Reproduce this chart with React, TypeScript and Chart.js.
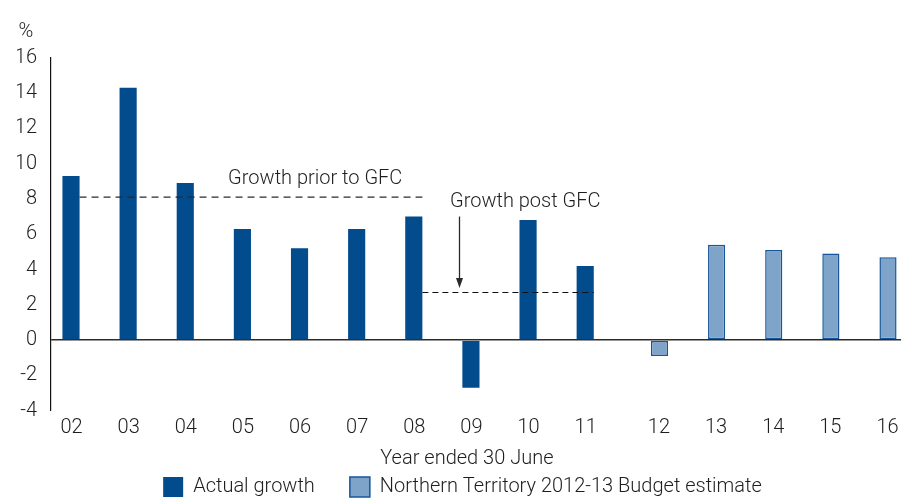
import React, { useEffect, useRef } from "react";
import { Chart, registerables } from "chart.js";

Chart.register(...registerables);

// ---- data ----
const YEARS = ["02", "03", "04", "05", "06", "07", "08", "09", "10", "11", "12", "13", "14", "15", "16"];
const ACTUAL_GROWTH = [9.3, 14.3, 8.9, 6.3, 5.2, 6.3, 7.0, -2.7, 6.8, 4.2, null, null, null, null, null];
const BUDGET_ESTIMATE = [null, null, null, null, null, null, null, null, null, null, -0.9, 5.4, 5.1, 4.9, 4.7];
const PRIOR_GFC_AVG = [8.1, 8.1, 8.1, 8.1, 8.1, 8.1, 8.1, null, null, null, null, null, null, null, null];
const POST_GFC_AVG = [null, null, null, null, null, null, 2.7, 2.7, 2.7, 2.7, null, null, null, null, null];
const SERIES_NAMES = ["Actual growth", "Northern Territory 2012-13 Budget estimate"];
const Y_MIN = -4;
const Y_MAX = 16;
const Y_STEP = 2;
const Y_UNIT = "%";
const X_TITLE = "Year ended 30 June";
const NOTE_LABELS = ["Growth prior to GFC", "Growth post GFC"];
const NOTE_X = [2.6, 7.8]; // in category units
const NOTE_Y = [9.15, 7.8]; // in % units
const ARROW_X = 6.64;
const ARROW_FROM = 7.0;
const ARROW_TO = 2.95;

// ---- style ----
const FAMILY = "Roboto, 'Liberation Sans', sans-serif";
const TEXT = "#1e1e1e";
const DARK_BLUE = "#024b8d";
const LIGHT_BLUE = "#7fa4c9";
const LIGHT_BORDER = "#17569a";

const notesPlugin = {
  id: "notes",
  afterDatasetsDraw(chart: any) {
    const { ctx, chartArea } = chart;
    const x = chart.scales.x;
    const y = chart.scales.y;
    ctx.save();
    ctx.font = `300 20px ${FAMILY}`;
    ctx.fillStyle = TEXT;
    ctx.textBaseline = "middle";
    ctx.textAlign = "left";
    ctx.fillText(NOTE_LABELS[0], x.getPixelForValue(NOTE_X[0]), y.getPixelForValue(NOTE_Y[0]));
    ctx.textAlign = "center";
    ctx.fillText(NOTE_LABELS[1], x.getPixelForValue(NOTE_X[1]), y.getPixelForValue(NOTE_Y[1]));
    ctx.fillText(Y_UNIT, chartArea.left - 25, chartArea.top - 26);

    const ax = Math.round(x.getPixelForValue(ARROW_X)) + 0.5;
    const ay1 = y.getPixelForValue(ARROW_FROM);
    const ay2 = y.getPixelForValue(ARROW_TO);
    ctx.strokeStyle = "#2a2a2a";
    ctx.fillStyle = "#2a2a2a";
    ctx.lineWidth = 1.3;
    ctx.beginPath();
    ctx.moveTo(ax, ay1);
    ctx.lineTo(ax, ay2 - 8);
    ctx.stroke();
    ctx.beginPath();
    ctx.moveTo(ax - 3.5, ay2 - 10);
    ctx.lineTo(ax + 3.5, ay2 - 10);
    ctx.lineTo(ax, ay2);
    ctx.closePath();
    ctx.fill();
    ctx.restore();
  },
};

export default function App() {
  const ref = useRef<HTMLCanvasElement | null>(null);

  useEffect(() => {
    if (!ref.current) return;
    const font = { family: FAMILY, size: 20, weight: "300" as any };
    const chart = new Chart(ref.current, {
      type: "bar",
      data: {
        labels: YEARS,
        datasets: [
          {
            type: "line" as any,
            label: "prior",
            data: PRIOR_GFC_AVG as any,
            borderColor: "#2a2a2a",
            borderWidth: 1.4,
            borderDash: [7, 5],
            pointRadius: 0,
            fill: false,
            order: 1,
          },
          {
            type: "line" as any,
            label: "post",
            data: POST_GFC_AVG as any,
            borderColor: "#111",
            borderWidth: 1.1,
            borderDash: [6, 4],
            pointRadius: 0,
            fill: false,
            order: 1,
          },
          {
            label: SERIES_NAMES[0],
            data: ACTUAL_GROWTH as any,
            backgroundColor: DARK_BLUE,
            borderWidth: 0,
            categoryPercentage: 0.6,
            barPercentage: 1.0,
            order: 2,
          },
          {
            label: SERIES_NAMES[1],
            data: BUDGET_ESTIMATE as any,
            backgroundColor: LIGHT_BLUE,
            borderColor: LIGHT_BORDER,
            borderWidth: 1.5,
            borderSkipped: false,
            categoryPercentage: 0.6,
            barPercentage: 1.0,
            order: 2,
          },
        ],
      },
      options: {
        animation: false,
        responsive: false,
        maintainAspectRatio: false,
        events: [],
        layout: { padding: { top: 57.7, left: 17, right: 0, bottom: 0 } },
        scales: {
          x: {
            offset: true,
            grid: { display: false, drawTicks: false },
            border: { display: false },
            ticks: {
              font,
              color: TEXT,
              padding: 5,
              autoSkip: false,
              maxRotation: 0,
              callback: (_v: any, i: number) =>
                ACTUAL_GROWTH[i] !== null ? YEARS[i] + "\u2007 " : "\u2007 " + YEARS[i],
            },
            title: {
              display: true,
              text: X_TITLE + "\u2002\u2002 ",
              font,
              color: TEXT,
              padding: { top: 2.3, bottom: -29 },
            },
          },
          y: {
            min: Y_MIN,
            max: Y_MAX,
            afterFit: (s: any) => {
              s.width = 34;
            },
            ticks: { stepSize: Y_STEP, font, color: TEXT, padding: 14 },
            grid: {
              drawTicks: false,
              color: (c: any) => (c.tick && c.tick.value === 0 ? "#2b2b2b" : "rgba(0,0,0,0)"),
              lineWidth: (c: any) => (c.tick && c.tick.value === 0 ? 1.6 : 0),
            },
            border: { display: true, color: "#111", width: 1.2 },
          },
        },
        plugins: {
          tooltip: { enabled: false },
          title: { display: false },
          legend: {
            position: "bottom",
            labels: {
              font,
              color: TEXT,
              boxWidth: 20,
              boxHeight: 20,
              padding: 35,
              filter: (item: any) => SERIES_NAMES.includes(item.text),
            },
          },
        },
      },
      plugins: [notesPlugin],
    });
    return () => chart.destroy();
  }, []);

  return (
    <div
      style={{
        position: "fixed",
        left: 0,
        top: 0,
        width: 901,
        height: 498,
        overflow: "hidden",
        background: "#fff",
      }}
    >
      <canvas ref={ref} width={908} height={507} style={{ width: 908, height: 507, display: "block" }} />
    </div>
  );
}
